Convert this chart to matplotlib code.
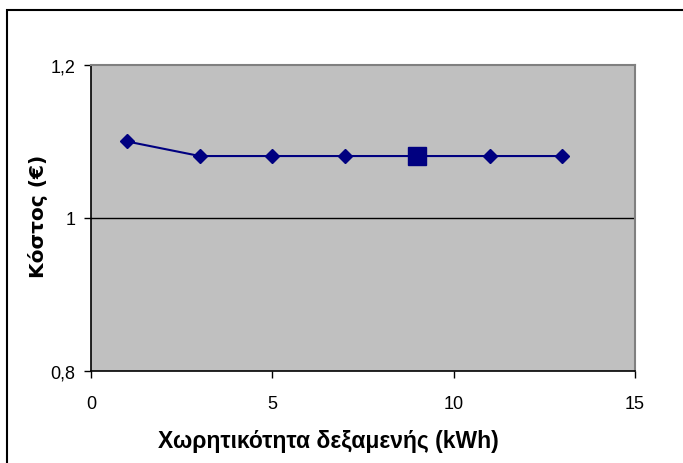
import matplotlib
matplotlib.use("Agg")
import matplotlib.pyplot as plt
from matplotlib.patches import Rectangle
from matplotlib.ticker import FuncFormatter

# Tank capacity (kWh) and cost (€)
capacity = [1, 3, 5, 7, 9, 11, 13]
cost = [1.10, 1.081, 1.081, 1.081, 1.081, 1.081, 1.081]
optimum_capacity = [9]
optimum_cost = [1.081]

x_ticks = [0, 5, 10, 15]
y_ticks = [0.8, 1.0, 1.2]

plt.rcParams['font.family'] = ['Liberation Sans', 'DejaVu Sans']

fig = plt.figure(figsize=(6.83, 4.64), dpi=100)
fig.patch.set_facecolor('white')

# outer chart frame
fig.patches.append(Rectangle((7 / 683, -0.05), 1.2, 1 - 11 / 464 + 0.05,
                             transform=fig.transFigure, fill=False,
                             edgecolor='black', linewidth=1.5, zorder=0))

ax = fig.add_axes([91 / 683, 1 - 372 / 464, (635 - 91) / 683, (372 - 66) / 464])
ax.set_facecolor('#c0c0c0')

ax.axhline(1.0, color='black', linewidth=1.0, zorder=1)

navy = '#000080'
ax.plot(capacity, cost, color=navy, linewidth=1.5, marker='D',
        markersize=7, zorder=3)
ax.plot(optimum_capacity, optimum_cost, linestyle='none', marker='s',
        markersize=13.5, color=navy, zorder=4)

ax.set_xlim(0, 15)
ax.set_ylim(0.8, 1.2)
ax.set_xticks(x_ticks)
ax.set_yticks(y_ticks)
ax.yaxis.set_major_formatter(FuncFormatter(
    lambda v, p: ('%g' % round(v, 2)).replace('.', ',')))

for side in ['left', 'bottom']:
    ax.spines[side].set_color('black')
    ax.spines[side].set_linewidth(1.2)
for side in ['top', 'right']:
    ax.spines[side].set_color('#808080')
    ax.spines[side].set_linewidth(1.5)

ax.tick_params(axis='both', direction='out', length=5, width=1,
               labelsize=13, colors='black')
ax.tick_params(axis='x', pad=12)
ax.tick_params(axis='y', pad=6)

ax.set_xlabel('Χωρητικότητα δεξαμενής (kWh)', fontsize=16.5,
              fontweight='bold')
ax.xaxis.set_label_coords(328 / 683, 1 - 448 / 464, transform=fig.transFigure)
ax.xaxis.label.set_va('baseline')

ax.set_ylabel('Κόστος (€)', fontsize=14.5, fontweight='bold',
              family=['DejaVu Sans'])
ax.yaxis.set_label_coords(28 / 683, 1 - 216 / 464, transform=fig.transFigure)
ax.yaxis.label.set_va('top')

fig.savefig('out.png', dpi=100)
